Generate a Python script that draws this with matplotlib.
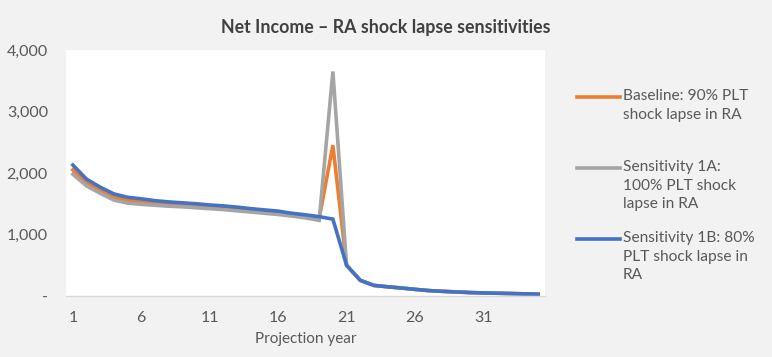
import matplotlib
matplotlib.use('agg')
import matplotlib.pyplot as plt
from matplotlib.lines import Line2D
from matplotlib.ticker import FuncFormatter

plt.rcParams['font.family'] = ['Lato', 'DejaVu Sans']

years = list(range(1, 36))

baseline = [2050, 1840, 1720, 1610, 1555, 1535, 1510, 1495, 1480, 1465,
            1450, 1435, 1415, 1395, 1375, 1355, 1325, 1295, 1260, 2450,
            500, 255, 172, 150, 130, 108, 88, 76, 66, 56, 50, 45, 40, 35, 30]
sens_1a = [1980, 1790, 1670, 1560, 1510, 1490, 1475, 1460, 1450, 1435,
           1420, 1405, 1385, 1365, 1345, 1325, 1300, 1270, 1230, 3650,
           500, 255, 172, 150, 130, 108, 88, 76, 66, 56, 50, 45, 40, 35, 30]
sens_1b = [2130, 1900, 1770, 1660, 1605, 1580, 1550, 1530, 1515, 1500,
           1480, 1465, 1445, 1420, 1400, 1380, 1345, 1320, 1290, 1250,
           500, 255, 172, 150, 130, 108, 88, 76, 66, 56, 50, 45, 40, 35, 30]

labels = ['Baseline: 90% PLT\nshock lapse in RA',
          'Sensitivity 1A:\n100% PLT shock\nlapse in RA',
          'Sensitivity 1B: 80%\nPLT shock lapse in\nRA']
colors = ['#ED7D31', '#A5A5A5', '#4472C4']

W, H = 772, 357
fig = plt.figure(figsize=(W / 100, H / 100), dpi=100)
fig.patch.set_facecolor('#f2f2f2')
ax = fig.add_axes([66 / W, 1 - 296 / H, (545 - 66) / W, (296 - 50) / H])
ax.set_facecolor('white')

for series, lab, c in zip([baseline, sens_1a, sens_1b], labels, colors):
    ax.plot(years, series, color=c, lw=2.6, label=lab, solid_joinstyle='miter')

ax.set_xlim(0.5, 35.5)
ax.set_ylim(0, 4000)
ax.set_xticks(range(1, 36, 5))
ax.set_yticks(range(0, 4001, 1000))
ax.yaxis.set_major_formatter(FuncFormatter(lambda v, p: '-' if v == 0 else f'{int(v):,}'))

for s in ['top', 'right', 'left']:
    ax.spines[s].set_visible(False)
ax.spines['bottom'].set_color('#d9d9d9')
ax.spines['bottom'].set_linewidth(1)
ax.tick_params(axis='both', length=0, labelsize=11.5, colors='#595959')
ax.tick_params(axis='y', pad=13)
ax.tick_params(axis='x', pad=11)

ax.set_xlabel('Projection year', fontsize=11, color='#595959', labelpad=5)
fig.text(0.5, 1 - 28 / H, 'Net Income \u2013 RA shock lapse sensitivities',
         ha='center', va='center', fontsize=12.8, fontweight='bold', color='#404040')

# legend drawn by hand so the key line sits on the first text line
legend_rows = [97, 168, 239]
for lab, c, yrow in zip(labels, colors, legend_rows):
    yf = 1 - yrow / H
    fig.add_artist(Line2D([577 / W, 620 / W], [yf, yf], color=c, lw=2.6,
                          transform=fig.transFigure))
    fig.text(623 / W, 1 - (yrow - 8) / H, lab, ha='left', va='top',
             fontsize=11.2, color='#595959', linespacing=1.42)

fig.savefig('out.png', dpi=100, facecolor=fig.get_facecolor())
